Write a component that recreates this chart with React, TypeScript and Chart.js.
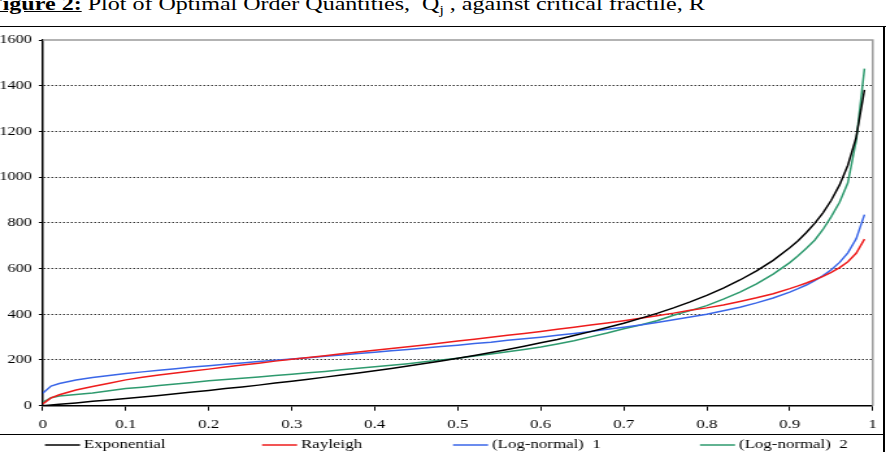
import React, { useEffect, useRef } from 'react';
import { Chart, registerables } from 'chart.js';

Chart.register(...registerables);

// critical fractile R (x values)
const fractileR = [
  0, 0.01, 0.02, 0.04, 0.06, 0.08, 0.1, 0.12, 0.14, 0.16, 0.18, 0.2, 0.22, 0.24, 0.26, 0.28,
  0.3, 0.32, 0.34, 0.36, 0.38, 0.4, 0.42, 0.44, 0.46, 0.48, 0.5, 0.52, 0.54, 0.56, 0.58,
  0.6, 0.62, 0.64, 0.66, 0.68, 0.7, 0.72, 0.74, 0.76, 0.78, 0.8, 0.82, 0.84, 0.86, 0.88,
  0.9, 0.91, 0.92, 0.93, 0.94, 0.95, 0.96, 0.97, 0.98, 0.99,
];

// Optimal order quantities Q_j for each distribution
const exponentialQ = [
  0, 3, 6, 12, 19, 25, 32, 38, 45, 52, 60, 67, 75, 82, 90, 99,
  107, 116, 125, 134, 143, 153, 163, 174, 185, 196, 208, 220, 233, 246, 260,
  275, 290, 307, 324, 342, 361, 382, 404, 428, 454, 483, 514, 550, 590, 636,
  691, 722, 758, 798, 844, 899, 966, 1052, 1174, 1382,
];
const rayleighQ = [
  8, 34, 48, 69, 84, 98, 113, 124, 134, 143, 152, 160, 169, 178, 186, 195,
  203, 211, 219, 227, 235, 243, 250, 258, 266, 274, 283, 291, 299, 308, 316,
  325, 334, 343, 353, 362, 372, 383, 394, 405, 418, 428, 441, 456, 472, 490,
  512, 524, 537, 551, 566, 583, 604, 630, 667, 729,
];
const logNormal1Q = [
  55, 86, 97, 112, 123, 132, 141, 148, 155, 162, 169, 175, 181, 187, 193, 199,
  204, 210, 216, 222, 228, 234, 240, 246, 252, 259, 265, 272, 278, 286, 293,
  300, 308, 316, 325, 334, 343, 353, 364, 376, 388, 400, 415, 431, 450, 471,
  497, 512, 528, 547, 569, 595, 627, 669, 730, 836,
];
const logNormal2Q = [
  15, 35, 42, 49, 56, 65, 75, 81, 88, 95, 102, 109, 115, 120, 126, 132,
  138, 144, 150, 157, 164, 170, 177, 184, 192, 200, 208, 217, 226, 236, 246,
  257, 270, 284, 301, 318, 337, 353, 372, 396, 416, 438, 466, 497, 533, 576,
  626, 656, 689, 724, 771, 827, 890, 975, 1160, 1475,
];

const seriesLabels = ['Exponential', 'Rayleigh', '(Log-normal)  1', '(Log-normal)  2'];
const seriesColors = ['#000000', '#ee1c1c', '#3a66e8', '#2e9a6e'];
const seriesValues = [exponentialQ, rayleighQ, logNormal1Q, logNormal2Q];

const X_MIN = 0;
const X_MAX = 1;
const X_STEP = 0.1;
const Y_MIN = 0;
const Y_MAX = 1600;
const Y_STEP = 200;

const SERIF = "'Liberation Serif', 'Times New Roman', serif";
const CANVAS_W = 682;
const CANVAS_H = 425;
const STRETCH = 886 / CANVAS_W;

const legendX = [34.6, 201.7, 348.7, 538.8];
const legendY = 418;

const excelLegend = {
  id: 'excelLegend',
  afterDraw(chart: any) {
    const ctx = chart.ctx as CanvasRenderingContext2D;
    ctx.save();
    ctx.font = `13px ${SERIF}`;
    ctx.textBaseline = 'middle';
    ctx.textAlign = 'left';
    chart.data.datasets.forEach((ds: any, i: number) => {
      const x = legendX[i];
      ctx.strokeStyle = ds.borderColor;
      ctx.lineWidth = 1.5;
      ctx.beginPath();
      ctx.moveTo(x, legendY);
      ctx.lineTo(x + 27, legendY);
      ctx.stroke();
      ctx.fillStyle = '#000';
      ctx.fillText(ds.label, x + 30, legendY);
    });
    ctx.restore();
  },
};

const plotFrame = {
  id: 'plotFrame',
  beforeDatasetsDraw(chart: any) {
    const { ctx, chartArea } = chart;
    const { left, right, top, bottom } = chartArea;
    ctx.save();
    ctx.strokeStyle = '#9a9a9a';
    ctx.lineWidth = 1.5;
    ctx.beginPath();
    ctx.moveTo(left, top);
    ctx.lineTo(right, top);
    ctx.lineTo(right, bottom);
    ctx.stroke();
    ctx.restore();
  },
};

function QuantityChart() {
  const ref = useRef<HTMLCanvasElement | null>(null);

  useEffect(() => {
    if (!ref.current) return;
    const datasets = seriesValues.map((vals, i) => ({
      label: seriesLabels[i],
      data: fractileR.map((r, k) => ({ x: r, y: vals[k] })),
      borderColor: seriesColors[i],
      backgroundColor: seriesColors[i],
      borderWidth: 1.5,
      pointRadius: 0,
      tension: 0,
      fill: false,
    }));
    const chart = new Chart(ref.current, {
      type: 'line',
      data: { datasets },
      options: {
        animation: false,
        responsive: false,
        devicePixelRatio: 1,
        layout: { padding: { top: 13, right: 10.2, left: 0, bottom: 0 } },
        plugins: {
          legend: { display: false },
          tooltip: { enabled: false },
          title: { display: false },
        },
        scales: {
          x: {
            type: 'linear',
            min: X_MIN,
            max: X_MAX,
            afterFit: (s: any) => {
              s.height = 46.3;
            },
            ticks: {
              stepSize: X_STEP,
              padding: 6.5,
              color: '#000',
              maxRotation: 0,
              autoSkip: false,
              font: { family: SERIF, size: 13 },
              callback: (v: any) => String(Math.round(Number(v) * 10) / 10),
            },
            grid: {
              drawOnChartArea: false,
              drawTicks: true,
              tickLength: 5,
              color: '#000',
              tickColor: '#000',
              lineWidth: 1,
            },
            border: { display: true, color: '#000', width: 1.5 },
          },
          y: {
            type: 'linear',
            min: Y_MIN,
            max: Y_MAX,
            afterFit: (s: any) => {
              s.width = 32.9;
            },
            ticks: {
              stepSize: Y_STEP,
              padding: 5.5,
              color: '#000',
              font: { family: SERIF, size: 12.5 },
              callback: (v: any) => String(Math.round(Number(v))),
            },
            grid: {
              color: (c: any) =>
                c.tick && (c.tick.value === Y_MIN || c.tick.value === Y_MAX) ? 'rgba(0,0,0,0)' : '#333',
              tickColor: '#000',
              tickLength: 3,
              lineWidth: 1,
            },
            border: { display: true, color: '#000', width: 1.5, dash: [1.5, 1.5] },
          },
        },
      },
      plugins: [plotFrame, excelLegend],
    } as any);
    return () => chart.destroy();
  }, []);

  return (
    <canvas
      ref={ref}
      width={CANVAS_W}
      height={CANVAS_H}
      style={{
        position: 'absolute',
        left: 0,
        top: 27,
        width: CANVAS_W * STRETCH,
        height: CANVAS_H,
        display: 'block',
      }}
    />
  );
}

export default function App() {
  return (
    <div
      style={{
        position: 'fixed',
        left: 0,
        top: 0,
        width: 886,
        height: 452,
        overflow: 'hidden',
        background: '#fff',
      }}
    >
      <div
        style={{
          position: 'absolute',
          left: -12.2,
          top: -5.5,
          whiteSpace: 'pre',
          fontFamily: SERIF,
          fontSize: 18.5,
          lineHeight: '18.5px',
          color: '#000',
          transform: `scaleX(${STRETCH})`,
          transformOrigin: '0 0',
        }}
      >
        <span style={{ fontWeight: 'bold', textDecoration: 'underline' }}>Figure 2:</span>
        {' Plot of Optimal Order Quantities,  Q'}
        <span style={{ fontSize: 12, position: 'relative', top: 4 }}>j</span>
        {' , against critical fractile, R'}
      </div>
      <QuantityChart />
      <div style={{ position: 'absolute', left: 0, top: 25.8, width: 886, height: 1.6, background: '#000' }} />
      <div style={{ position: 'absolute', left: 883, top: 26, width: 1.5, height: 430, background: '#000' }} />
      <div style={{ position: 'absolute', left: 0, top: 433.5, width: 884, height: 1.2, background: '#000' }} />
    </div>
  );
}
